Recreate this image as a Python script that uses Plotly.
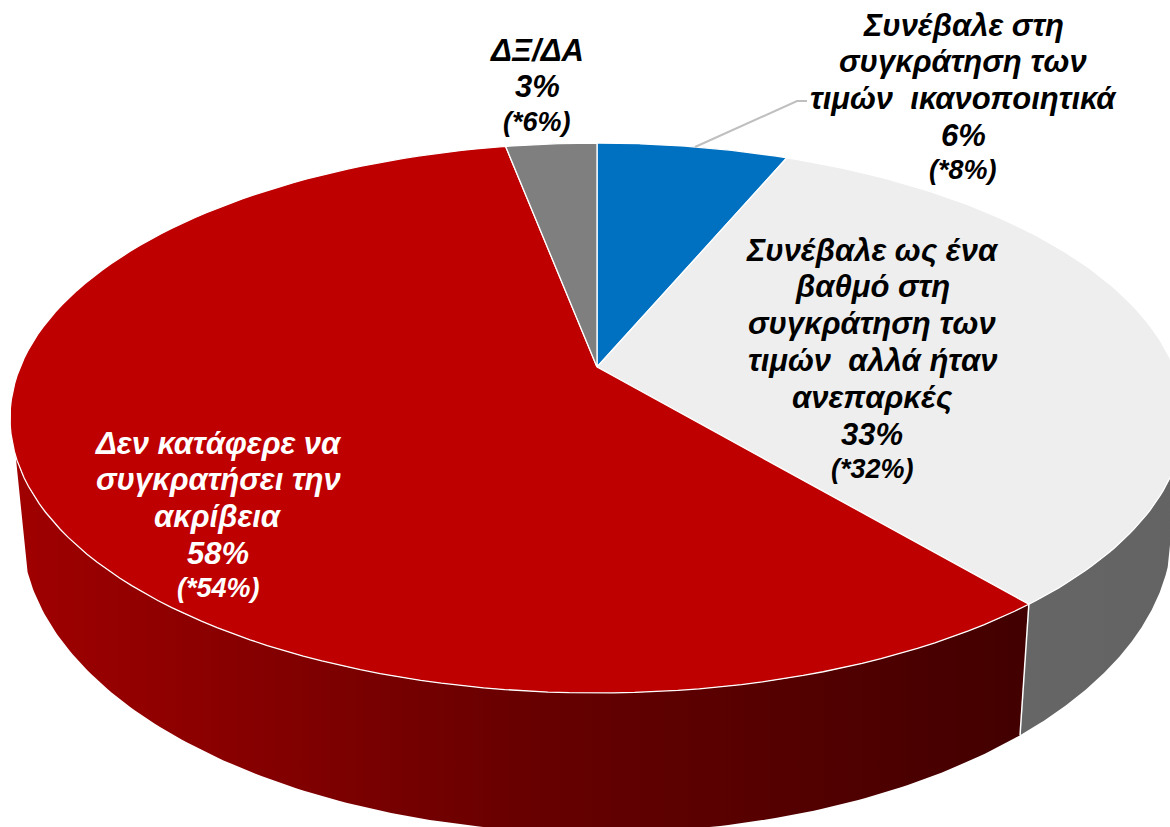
import numpy as np
import plotly.graph_objects as go

# ---- data -----------------------------------------------------------------
categories = [
    ["Συνέβαλε στη", "συγκράτηση των", "τιμών  ικανοποιητικά"],
    ["Συνέβαλε ως ένα", "βαθμό στη", "συγκράτηση των", "τιμών  αλλά ήταν", "ανεπαρκές"],
    ["Δεν κατάφερε να", "συγκρατήσει την", "ακρίβεια"],
    ["ΔΞ/ΔΑ"],
]
values = [6.3, 32.6, 58.1, 3.0]
previous = [8, 32, 54, 6]
slice_colors = ["#0070C0", "#EEEEEE", "#BE0000", "#7F7F7F"]
text_colors = ["#000000", "#000000", "#FFFFFF", "#000000"]
label_x = [963, 872, 218, 537]
label_first_y = [25, 250, 443, 50]

# ---- projection of the pie on the page ------------------------------------
W, H = 1170, 827
CX = 597
TOP_CY, TOP_RX, TOP_RY = 418, 587, 275
LOW_CY, LOW_RX, LOW_RY = 530, 575, 303
K = 0.1855  # perspective
LINE_PITCH, SMALL_PITCH = 36.8, 35
MAIN_SIZE, SMALL_SIZE = 31, 27
FONT = "Liberation Sans, Arial, sans-serif"


def theta(phi):
    return np.arctan2(np.sqrt(1 - K**2) * np.sin(phi), np.cos(phi) + K)


def top(th):
    return CX + TOP_RX * np.sin(th), TOP_CY - TOP_RY * np.cos(th)


def low(th):
    return CX + LOW_RX * np.sin(th), LOW_CY - LOW_RY * np.cos(th)


apex = (CX, TOP_CY - TOP_RY * K)
edges = np.radians(np.cumsum([0] + values) / sum(values) * 360)

fig = go.Figure()

# side wall: the two visible parts either side of the grey/red seam
seam = theta(edges[2])
RIGHT_END, LEFT_END = np.radians(97), np.radians(262)
walls = [
    (RIGHT_END, seam, [[0, "#666666"], [1, "#636363"]]),
    (seam, LEFT_END, [[0, "#A00000"], [0.5, "#680000"], [1, "#420000"]]),
]
for a, b, scale in walls:
    th = np.linspace(a, b, 160)
    tx, ty = top(th)
    lx, ly = low(th)
    fig.add_trace(go.Scatter(
        x=np.r_[tx, lx[::-1], tx[0]], y=np.r_[ty, ly[::-1], ty[0]],
        mode="lines", fill="toself", line=dict(width=0),
        fillgradient=dict(type="horizontal", colorscale=scale),
        hoverinfo="skip", showlegend=False,
    ))

# white seam on the wall
fig.add_trace(go.Scatter(
    x=[top(seam)[0], low(seam)[0]], y=[top(seam)[1], low(seam)[1]],
    mode="lines", line=dict(color="white", width=1.5), hoverinfo="skip", showlegend=False,
))

# top face
for i, col in enumerate(slice_colors):
    phi = np.linspace(edges[i], edges[i + 1], 120)
    th = np.unwrap(theta(phi))
    x, y = top(th)
    fig.add_trace(go.Scatter(
        x=np.r_[apex[0], x, apex[0]], y=np.r_[apex[1], y, apex[1]],
        mode="lines", fill="toself", fillcolor=col,
        line=dict(color="white", width=1.3),
        hoverinfo="skip", showlegend=False,
    ))

# leader line
fig.add_trace(go.Scatter(
    x=[695, 797, 807], y=[147, 101, 101], mode="lines",
    line=dict(color="#BFBFBF", width=2), hoverinfo="skip", showlegend=False,
))

# labels: one annotation per text line so that the line pitch can follow the original
for lines, v, p, c, x0, y0 in zip(categories, values, previous, text_colors, label_x, label_first_y):
    rows = lines + [f"{round(v)}%"]
    for j, row in enumerate(rows):
        fig.add_annotation(
            x=x0, y=y0 + j * LINE_PITCH, text=f"<b><i>{row}</i></b>", showarrow=False,
            xanchor="center", yanchor="middle",
            font=dict(family=FONT, size=MAIN_SIZE, color=c),
        )
    fig.add_annotation(
        x=x0, y=y0 + (len(rows) - 1) * LINE_PITCH + SMALL_PITCH, text=f"<b><i>(*{p}%)</i></b>",
        showarrow=False, xanchor="center", yanchor="middle",
        font=dict(family=FONT, size=SMALL_SIZE, color=c),
    )

fig.update_layout(
    width=W, height=H, margin=dict(l=0, r=0, t=0, b=0),
    paper_bgcolor="white", plot_bgcolor="white", showlegend=False,
    xaxis=dict(range=[0, W], visible=False, fixedrange=True),
    yaxis=dict(range=[H, 0], visible=False, fixedrange=True),
)

fig.write_html("out.html", config=dict(displayModeBar=False),
               post_script="document.body.style.margin='0';document.body.style.overflow='hidden';")
